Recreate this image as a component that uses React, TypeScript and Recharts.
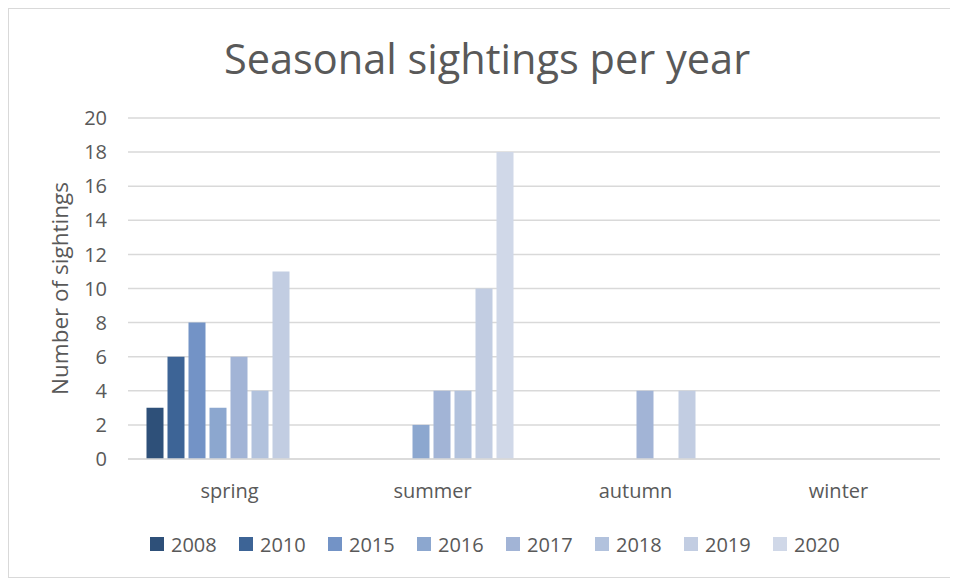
import { Bar, BarChart, CartesianGrid, Legend, XAxis, YAxis } from "recharts"

const seasons = ["spring", "summer", "autumn", "winter"]
const years = ["2008", "2010", "2015", "2016", "2017", "2018", "2019", "2020"]
const s2008 = [3, 0, 0, 0]
const s2010 = [6, 0, 0, 0]
const s2015 = [8, 0, 0, 0]
const s2016 = [3, 2, 0, 0]
const s2017 = [6, 4, 4, 0]
const s2018 = [4, 4, 0, 0]
const s2019 = [11, 10, 4, 0]
const s2020 = [0, 18, 0, 0]
const yTicks = [0, 2, 4, 6, 8, 10, 12, 14, 16, 18, 20]

const colors = ["#2E5079", "#3D6496", "#7393C6", "#8CA7CF", "#A2B4D6", "#B2C2DD", "#C2CDE2", "#D0D8E8"]
const seriesValues = [s2008, s2010, s2015, s2016, s2017, s2018, s2019, s2020]

const data = seasons.map((season, i) => {
  const row: Record<string, string | number> = { season }
  years.forEach((y, j) => {
    row[y] = seriesValues[j][i]
  })
  return row
})

const font = "'Open Sans', sans-serif"
const textColor = "#595959"

function LegendContent(props: any) {
  const items = props.payload || []
  return (
    <div style={{ display: "flex", alignItems: "center", height: 28, fontFamily: font, fontSize: 20 }}>
      {items.map((it: any) => (
        <div key={it.value} style={{ display: "flex", alignItems: "center", width: 89 }}>
          <div style={{ width: 14, height: 14, background: it.color, marginRight: 7 }} />
          <span style={{ color: textColor }}>{it.value}</span>
        </div>
      ))}
    </div>
  )
}

export default function App() {
  return (
    <div
      style={{
        position: "relative",
        width: 950,
        height: 570,
        border: "1px solid #D9D9D9",
        boxSizing: "border-box",
        background: "#fff",
        fontFamily: font,
      }}
    >
      <div
        style={{
          position: "absolute",
          top: 21,
          left: 4,
          width: 948,
          textAlign: "center",
          fontSize: 41.5,
          lineHeight: "56px",
          color: textColor,
          fontFamily: font,
        }}
      >
        Seasonal sightings per year
      </div>
      <BarChart
        width={948}
        height={568}
        data={data}
        margin={{ top: 109, right: 17, left: 0, bottom: 0 }}
        barCategoryGap={18.5}
        barGap={4}
        style={{ position: "absolute", top: 0, left: 0 }}
      >
        <CartesianGrid vertical={false} stroke="#D9D9D9" strokeWidth={1.5} />
        <XAxis
          dataKey="season"
          axisLine={{ stroke: "#D9D9D9", strokeWidth: 1.5 }}
          tickLine={false}
          tickMargin={19}
          height={90}
          tick={{ fill: textColor, fontSize: 20, fontFamily: font }}
        />
        <YAxis
          width={119}
          domain={[0, 20]}
          ticks={yTicks}
          axisLine={false}
          tickLine={false}
          tickMargin={15}
          tick={{ fill: textColor, fontSize: 20, fontFamily: font }}
          label={{
            value: "Number of sightings",
            angle: -90,
            position: "insideLeft",
            offset: 51,
            style: { textAnchor: "middle", fill: textColor, fontSize: 22.5, fontFamily: font },
          }}
        />
        <Legend
          verticalAlign="bottom"
          content={<LegendContent />}
          wrapperStyle={{ top: 521, left: 141, width: "auto" }}
        />
        {years.map((y, j) => (
          <Bar key={y} dataKey={y} fill={colors[j]} isAnimationActive={false} />
        ))}
      </BarChart>
    </div>
  )
}
